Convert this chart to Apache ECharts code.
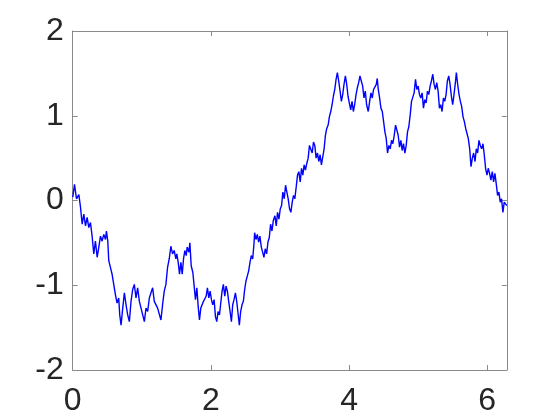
<!DOCTYPE html>
<html>
<head>
<meta charset="utf-8">
<script src="https://cdn.jsdelivr.net/npm/echarts@6/dist/echarts.min.js"></script>
<style>html,body{margin:0;padding:0;background:#fff}#c{width:560px;height:420px}</style>
</head>
<body>
<div id="c"></div>
<script>
var xTicks = [0, 2, 4, 6];
var yTicks = [-2, -1, 0, 1, 2];
var xs = [0.001,0.026,0.055,0.089,0.113,0.137,0.161,0.185,0.209,0.233,0.257,0.281,0.305,0.329,0.354,0.378,0.402,0.426,0.450,0.474,0.488,0.508,0.522,0.546,0.570,0.594,0.618,0.642,0.666,0.681,0.700,0.724,0.748,0.772,0.796,0.820,0.844,0.868,0.892,0.916,0.940,0.965,0.989,1.013,1.037,1.061,1.085,1.109,1.133,1.157,1.181,1.205,1.229,1.253,1.277,1.301,1.325,1.349,1.373,1.397,1.421,1.445,1.469,1.493,1.507,
1.527,1.546,1.566,1.585,1.604,1.623,1.643,1.657,1.681,1.696,1.715,1.739,1.758,1.777,1.797,1.816,1.835,1.854,1.873,1.893,1.912,1.931,1.950,1.970,1.989,2.008,2.027,2.047,2.066,2.085,2.104,2.124,2.143,2.162,2.181,2.201,2.220,2.239,2.258,2.278,2.297,2.316,2.335,2.355,2.374,2.393,2.412,2.431,2.451,2.470,2.489,2.508,2.528,2.547,2.566,2.585,2.605,2.624,2.633,2.653,2.672,2.691,2.710,2.730,2.749,2.768,2.787,2.807,2.826,2.845,2.864,2.884,2.903,
2.908,2.927,2.946,2.965,2.985,3.004,3.023,3.042,3.062,3.081,3.100,3.119,3.139,3.158,3.177,3.196,3.215,3.235,3.254,3.273,3.293,3.312,3.331,3.350,3.369,3.389,3.408,3.427,3.446,3.466,3.485,3.504,3.523,3.543,3.562,3.581,3.600,3.620,3.639,3.658,3.677,3.697,3.716,3.735,3.754,3.773,3.793,3.812,3.831,3.850,3.870,3.889,3.908,3.927,3.947,3.966,3.985,4.004,4.024,4.043,4.062,4.081,4.101,4.120,4.139,4.158,4.177,4.197,4.216,4.235,4.254,4.278,
4.298,4.317,4.336,4.355,4.375,4.394,4.408,4.423,4.442,4.461,4.481,4.500,4.519,4.538,4.557,4.577,4.596,4.615,4.634,4.654,4.673,4.692,4.711,4.731,4.750,4.769,4.788,4.808,4.827,4.846,4.865,4.885,4.904,4.923,4.942,4.962,4.981,5.000,5.019,5.038,5.058,5.077,5.096,5.115,5.135,5.154,5.173,5.192,5.212,5.231,5.250,5.269,5.289,5.308,5.327,5.346,5.366,5.385,5.404,5.423,5.443,5.462,5.481,5.500,5.519,5.539,5.553,5.572,5.592,5.611,5.630,5.649,5.669,5.688,5.707,5.726,5.746,5.765,5.784,5.803,5.823,5.842,5.861,5.880,5.899,5.919,5.938,5.957,5.976,5.996,6.015,6.034,6.053,6.073,6.092,6.111,6.130,6.150,6.169,6.188,6.207,6.227,6.246,6.2832];
var ys = [0.04,0.19,0.02,0.07,-0.08,-0.28,-0.16,-0.30,-0.20,-0.32,-0.26,-0.42,-0.63,-0.48,-0.67,-0.55,-0.42,-0.48,-0.40,-0.46,-0.36,-0.48,-0.71,-0.79,-0.87,-0.99,-1.11,-1.21,-1.15,-1.35,-1.47,-1.27,-1.09,-1.23,-1.35,-1.43,-1.19,-1.05,-0.99,-1.15,-1.03,-1.19,-1.27,-1.35,-1.43,-1.27,-1.31,-1.15,-1.13,-1.03,-1.19,-1.17,-1.27,-1.25,-1.41,-1.23,-1.07,-0.99,-0.79,-0.69,-0.54,-0.63,-0.59,-0.69,-0.63,
-0.73,-0.87,-0.73,-0.87,-0.69,-0.59,-0.65,-0.55,-0.61,-0.50,-0.77,-0.85,-1.01,-1.17,-1.03,-1.25,-1.41,-1.27,-1.29,-1.19,-1.17,-1.13,-1.03,-1.15,-1.07,-1.17,-1.23,-1.17,-1.37,-1.43,-1.31,-1.35,-1.21,-1.07,-0.99,-1.13,-1.01,-1.07,-1.19,-1.31,-1.43,-1.23,-1.17,-1.09,-1.19,-1.33,-1.47,-1.31,-1.23,-1.19,-1.05,-0.95,-0.89,-0.83,-0.73,-0.65,-0.69,-0.51,-0.38,-0.46,-0.40,-0.49,-0.42,-0.55,-0.61,-0.67,-0.57,-0.63,-0.49,-0.44,-0.28,-0.36,-0.24,
-0.26,-0.18,-0.30,-0.14,-0.22,-0.10,-0.06,0.10,0.02,0.18,0.10,0.02,-0.10,-0.14,-0.02,0.06,0.02,0.16,0.30,0.34,0.22,0.38,0.30,0.42,0.36,0.44,0.50,0.65,0.67,0.56,0.69,0.65,0.50,0.56,0.46,0.54,0.42,0.40,0.61,0.77,0.85,0.89,0.99,1.05,1.13,1.23,1.31,1.43,1.51,1.41,1.29,1.17,1.25,1.37,1.47,1.37,1.23,1.15,1.07,1.17,1.05,1.13,1.25,1.33,1.39,1.47,1.41,1.35,1.21,1.29,1.13,1.05,
1.17,1.27,1.21,1.31,1.29,1.37,1.44,1.31,1.21,1.09,1.05,0.93,0.81,0.73,0.56,0.65,0.61,0.71,0.67,0.77,0.89,0.91,0.77,0.63,0.71,0.59,0.67,0.56,0.65,0.81,0.87,1.01,1.17,1.19,1.27,1.43,1.31,1.35,1.25,1.21,1.27,1.09,1.19,1.15,1.29,1.25,1.35,1.41,1.49,1.37,1.31,1.39,1.29,1.09,1.13,1.05,1.21,1.17,1.25,1.41,1.47,1.37,1.23,1.13,1.25,1.39,1.51,1.37,1.25,1.17,1.11,0.99,0.93,0.85,0.79,0.73,0.61,0.40,0.50,0.56,0.46,0.61,0.56,0.71,0.65,0.61,0.67,0.54,0.38,0.30,0.38,0.32,0.24,0.34,0.22,0.32,0.20,0.06,0.10,-0.02,0.02,-0.14,-0.02,-0.06];

var data = xs.map(function (x, i) { return [x, ys[i]]; });
var axisColor = '#8a8a8a';
var labelStyle = { color: '#262626', fontSize: 32, fontFamily: 'Liberation Sans, Arial, sans-serif' };
var chart = echarts.init(document.getElementById('c'), null, { renderer: 'canvas' });
chart.setOption({
  animation: false,
  backgroundColor: '#ffffff',
  grid: { left: 72.7, right: 53.2, top: 31, bottom: 50, containLabel: false },
  xAxis: [
    { type: 'value', min: 0, max: 2 * Math.PI, position: 'bottom',
      axisLine: { show: true, onZero: false, lineStyle: { color: axisColor, width: 1 } },
      axisTick: { show: true, inside: true, length: 5, customValues: xTicks, lineStyle: { color: axisColor } },
      axisLabel: Object.assign({ margin: 15, customValues: xTicks }, labelStyle),
      splitLine: { show: false } },
    { type: 'value', min: 0, max: 2 * Math.PI, position: 'top',
      axisLine: { show: true, onZero: false, lineStyle: { color: axisColor, width: 1 } },
      axisTick: { show: true, inside: true, length: 5, customValues: xTicks, lineStyle: { color: axisColor } },
      axisLabel: { show: false }, splitLine: { show: false } }
  ],
  yAxis: [
    { type: 'value', min: -2, max: 2, interval: 1, position: 'left',
      axisLine: { show: true, onZero: false, lineStyle: { color: axisColor, width: 1 } },
      axisTick: { show: true, inside: true, length: 5, customValues: yTicks, lineStyle: { color: axisColor } },
      axisLabel: Object.assign({ margin: 9, customValues: yTicks }, labelStyle),
      splitLine: { show: false } },
    { type: 'value', min: -2, max: 2, interval: 1, position: 'right',
      axisLine: { show: true, onZero: false, lineStyle: { color: axisColor, width: 1 } },
      axisTick: { show: true, inside: true, length: 5, customValues: yTicks, lineStyle: { color: axisColor } },
      axisLabel: { show: false }, splitLine: { show: false } }
  ],
  series: [{
    type: 'line', data: data, xAxisIndex: 0, yAxisIndex: 0,
    showSymbol: false, symbol: 'none', smooth: false,
    lineStyle: { color: '#0000ff', width: 1.4 }
  }]
});
</script>
</body>
</html>
